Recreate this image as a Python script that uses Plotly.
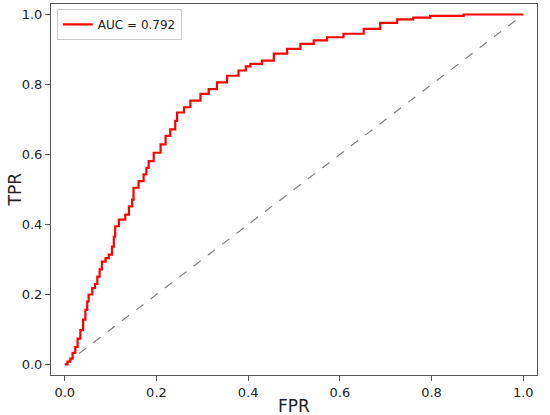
import plotly.graph_objects as go

fpr = [0.0, 0.006, 0.012, 0.017, 0.023, 0.028, 0.034, 0.040, 0.045, 0.049,
       0.052, 0.060, 0.066, 0.071, 0.076, 0.081, 0.089, 0.096, 0.103, 0.107,
       0.110, 0.118, 0.132, 0.140, 0.147, 0.150, 0.161, 0.172, 0.178, 0.183,
       0.194, 0.209, 0.220, 0.230, 0.241, 0.245, 0.260, 0.274, 0.296, 0.314,
       0.332, 0.354, 0.379, 0.395, 0.405, 0.430, 0.456, 0.485, 0.514, 0.543,
       0.572, 0.608, 0.652, 0.688, 0.725, 0.760, 0.797, 0.870, 1.0]
tpr = [0.0, 0.008, 0.017, 0.033, 0.050, 0.074, 0.098, 0.128, 0.156, 0.180,
       0.200, 0.218, 0.230, 0.251, 0.272, 0.294, 0.304, 0.314, 0.337, 0.365,
       0.395, 0.414, 0.428, 0.452, 0.471, 0.505, 0.524, 0.543, 0.562, 0.581,
       0.605, 0.629, 0.653, 0.672, 0.696, 0.720, 0.735, 0.754, 0.773, 0.787,
       0.806, 0.825, 0.840, 0.852, 0.859, 0.868, 0.888, 0.902, 0.916, 0.926,
       0.935, 0.945, 0.959, 0.976, 0.986, 0.991, 0.996, 1.0, 1.0]
diag = [0.0, 1.0]
auc_label = "AUC = 0.792"
ticks = [0.0, 0.2, 0.4, 0.6, 0.8, 1.0]

fig = go.Figure()
fig.add_trace(go.Scatter(x=diag, y=diag, mode="lines", showlegend=False,
                         line=dict(color="#7f7f7f", width=1.2, dash="dash")))
fig.add_trace(go.Scatter(x=fpr, y=tpr, mode="lines", name=auc_label,
                         line=dict(color="red", width=2.2, shape="hv")))

axis_common = dict(range=[-0.03, 1.03], tickvals=ticks, tickformat=".1f",
                   showline=True, mirror=True, linecolor="#555", linewidth=1,
                   showgrid=False, zeroline=False, ticks="outside", ticklen=5,
                   tickcolor="#555", tickfont=dict(size=13, color="#222"),
                   automargin=False)

fig.update_layout(
    width=550, height=415,
    margin=dict(l=51, r=13, t=4, b=40, autoexpand=False),
    paper_bgcolor="white", plot_bgcolor="white",
    font=dict(family="DejaVu Sans", color="#222"),
    xaxis=dict(**axis_common),
    yaxis=dict(**axis_common),
    legend=dict(x=0.012, y=0.987, xanchor="left", yanchor="top",
                bgcolor="rgba(255,255,255,0.8)", bordercolor="#cccccc", borderwidth=1,
                font=dict(size=12), itemwidth=30),
    annotations=[
        dict(text="FPR", xref="paper", yref="paper", x=0.5, y=0, yshift=-31,
             xanchor="center", yanchor="middle", showarrow=False,
             font=dict(size=17, color="#222")),
        dict(text="TPR", xref="paper", yref="paper", x=0, y=0.5, xshift=-37,
             xanchor="center", yanchor="middle", showarrow=False, textangle=-90,
             font=dict(size=17, color="#222")),
    ],
)

fig.write_html("out.html", config={"displayModeBar": False},
               post_script="document.body.style.margin='0';")
